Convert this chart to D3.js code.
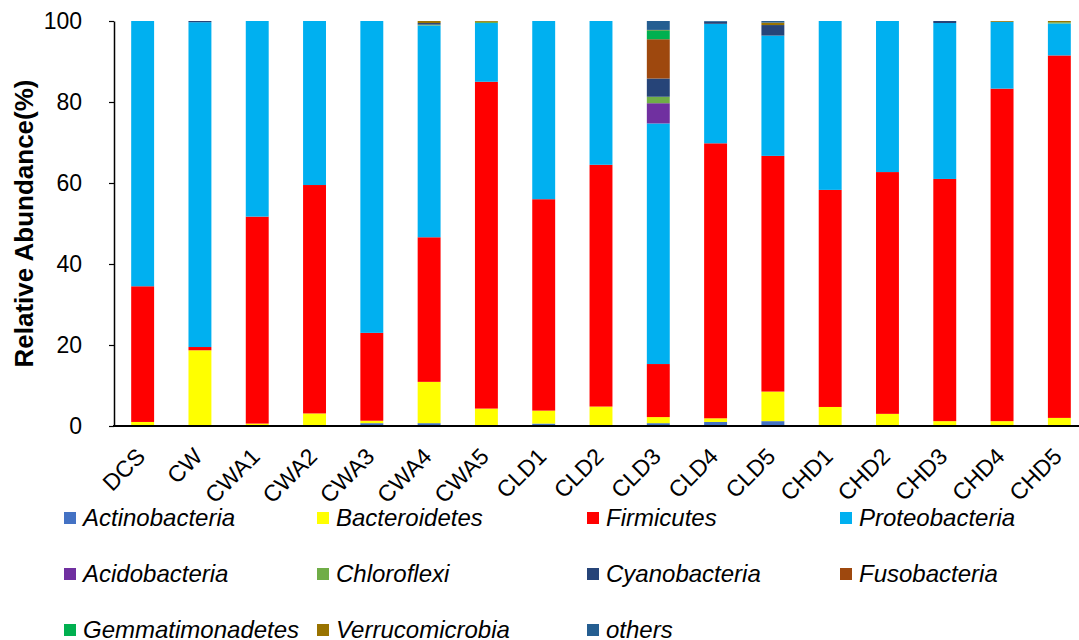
<!DOCTYPE html>
<html>
<head>
<meta charset="utf-8">
<script src="https://cdn.jsdelivr.net/npm/d3@7"></script>
<style>
  body { margin: 0; background: #fff; }
  text { font-family: "Liberation Sans", Arial, sans-serif; fill: #000; }
</style>
</head>
<body>
<svg id="chart" width="1079" height="640"></svg>
<script>
const samples = ['DCS', 'CW', 'CWA1', 'CWA2', 'CWA3', 'CWA4', 'CWA5', 'CLD1', 'CLD2',
  'CLD3', 'CLD4', 'CLD5', 'CHD1', 'CHD2', 'CHD3', 'CHD4', 'CHD5'];

const phyla = ['Actinobacteria', 'Bacteroidetes', 'Firmicutes', 'Proteobacteria',
  'Acidobacteria', 'Chloroflexi', 'Cyanobacteria', 'Fusobacteria',
  'Gemmatimonadetes', 'Verrucomicrobia', 'others'];

const colors = ['#4472C4', '#FFFF00', '#FF0000', '#00B0F0', '#7030A0', '#70AD47',
  '#264478', '#9E480E', '#00B050', '#997300', '#255E91'];

// relative abundance (%) per phylum, one value per sample
const actinobacteria   = [0, 0, 0, 0, 0.7, 0.7, 0.2, 0.6, 0, 0.7, 1.0, 1.2, 0, 0, 0, 0, 0];
const bacteroidetes    = [1.0, 18.7, 0.6, 3.1, 0.6, 10.2, 4.1, 3.2, 4.8, 1.5, 0.9, 7.3, 4.7, 3.0, 1.2, 1.2, 2.0];
const firmicutes       = [33.5, 0.8, 51.1, 56.4, 21.7, 35.7, 80.7, 52.2, 59.7, 13.1, 67.9, 58.2, 53.6, 59.7, 59.8, 82.1, 89.5];
const proteobacteria   = [65.5, 80.2, 48.3, 40.5, 77.0, 52.3, 14.5, 44.0, 35.5, 59.4, 29.5, 29.7, 41.7, 37.3, 38.5, 16.5, 7.9];
const acidobacteria    = [0, 0, 0, 0, 0, 0, 0, 0, 0, 5.0, 0, 0, 0, 0, 0, 0, 0];
const chloroflexi      = [0, 0, 0, 0, 0, 0.2, 0.3, 0, 0, 1.6, 0, 0, 0, 0, 0, 0, 0.3];
const cyanobacteria    = [0, 0.3, 0, 0, 0, 0.4, 0, 0, 0, 4.5, 0.5, 2.6, 0, 0, 0.5, 0, 0];
const fusobacteria     = [0, 0, 0, 0, 0, 0, 0, 0, 0, 9.7, 0, 0, 0, 0, 0, 0, 0];
const gemmatimonadetes = [0, 0, 0, 0, 0, 0, 0, 0, 0, 2.2, 0, 0, 0, 0, 0, 0, 0];
const verrucomicrobia  = [0, 0, 0, 0, 0, 0.5, 0.2, 0, 0, 0.1, 0, 0.6, 0, 0, 0, 0.2, 0.3];
const others           = [0, 0, 0, 0, 0, 0, 0, 0, 0, 2.2, 0.2, 0.4, 0, 0, 0, 0, 0];

const yTicks = [0, 20, 40, 60, 80, 100];

const series = [actinobacteria, bacteroidetes, firmicutes, proteobacteria, acidobacteria,
  chloroflexi, cyanobacteria, fusobacteria, gemmatimonadetes, verrucomicrobia, others];

const table = samples.map((s, i) => {
  const row = { sample: s };
  phyla.forEach((p, j) => { row[p] = series[j][i]; });
  return row;
});

const svg = d3.select('#chart');

const x = d3.scaleBand()
  .domain(samples)
  .range([114, 1088])
  .paddingInner(0.6)
  .paddingOuter(0.3);

const y = d3.scaleLinear()
  .domain([0, 100])
  .range([426, 21]);

const color = d3.scaleOrdinal().domain(phyla).range(colors);

const layers = d3.stack().keys(phyla)(table);

// bars
svg.append('g')
  .selectAll('g')
  .data(layers)
  .enter()
  .append('g')
  .attr('fill', (d) => color(d.key))
  .selectAll('rect')
  .data((d) => d)
  .enter()
  .append('rect')
  .attr('x', (d) => x(d.data.sample))
  .attr('width', x.bandwidth())
  .attr('y', (d) => y(d[1]))
  .attr('height', (d) => Math.max(0, y(d[0]) - y(d[1])));

// y axis
const yAxis = svg.append('g')
  .attr('transform', 'translate(114,0)')
  .call(d3.axisLeft(y).tickValues(yTicks).tickSize(5).tickSizeOuter(0).tickPadding(27));

yAxis.select('.domain').attr('stroke', '#000').attr('stroke-width', 1.5);
yAxis.selectAll('.tick line').attr('stroke', '#000').attr('stroke-width', 1.2);
yAxis.selectAll('.tick text')
  .style('font-family', '"Liberation Sans", Arial, sans-serif')
  .style('font-size', '23px')
  .attr('fill', '#000');

// x axis
const xAxis = svg.append('g')
  .attr('transform', 'translate(0,426)')
  .call(d3.axisBottom(x).tickSize(0).tickSizeOuter(0).tickFormat(''));

xAxis.select('.domain')
  .attr('d', 'M113,0H1079')
  .attr('stroke', '#000')
  .attr('stroke-width', 2);

svg.append('g')
  .selectAll('text')
  .data(samples)
  .enter()
  .append('text')
  .attr('transform', (d) => `translate(${x(d) + x.bandwidth() / 2 + 4},458) rotate(-45)`)
  .attr('text-anchor', 'end')
  .style('font-size', '23px')
  .text((d) => d);

// y title
svg.append('text')
  .attr('transform', `translate(33,${(y(0) + y(100)) / 2}) rotate(-90)`)
  .attr('text-anchor', 'middle')
  .style('font-size', '26px')
  .style('font-weight', 'bold')
  .text('Relative Abundance(%)');

// legend
const legendCols = [64, 317, 587, 840];
const legend = svg.append('g')
  .selectAll('g')
  .data(phyla)
  .enter()
  .append('g')
  .attr('transform', (d, i) => `translate(${legendCols[i % 4]},${512 + Math.floor(i / 4) * 56})`);

legend.append('rect')
  .attr('width', 12)
  .attr('height', 12)
  .attr('fill', (d) => color(d));

legend.append('text')
  .attr('x', 19)
  .attr('y', 14)
  .style('font-size', '24px')
  .style('font-style', 'italic')
  .text((d) => d);
</script>
</body>
</html>
